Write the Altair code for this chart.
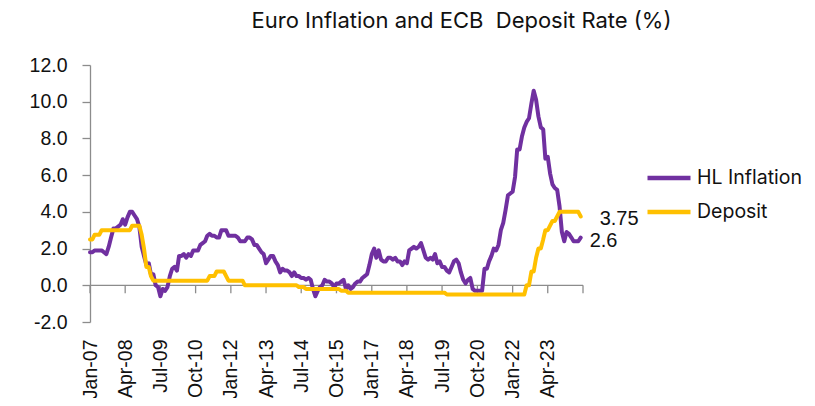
import altair as alt
import pandas as pd

# ---- data (monthly, Jan-2007 .. Jun-2024) ----
inflation = [
    # 2007
    1.8, 1.8, 1.9, 1.9, 1.9, 1.9, 1.8, 1.7, 2.1, 2.6, 3.1, 3.1,
    # 2008
    3.2, 3.3, 3.6, 3.3, 3.7, 4.0, 4.0, 3.8, 3.6, 3.2, 2.1, 1.6,
    # 2009
    1.1, 1.2, 0.6, 0.6, 0.0, -0.1, -0.6, -0.2, -0.3, -0.1, 0.5, 0.9,
    # 2010
    1.0, 0.8, 1.6, 1.6, 1.7, 1.5, 1.7, 1.6, 1.9, 1.9, 1.9, 2.2,
    # 2011
    2.3, 2.4, 2.7, 2.8, 2.7, 2.7, 2.6, 2.6, 3.0, 3.0, 3.0, 2.7,
    # 2012
    2.7, 2.7, 2.7, 2.6, 2.4, 2.4, 2.4, 2.6, 2.6, 2.5, 2.2, 2.2,
    # 2013
    2.0, 1.8, 1.7, 1.2, 1.4, 1.6, 1.6, 1.3, 1.1, 0.7, 0.9, 0.8,
    # 2014
    0.8, 0.7, 0.5, 0.7, 0.5, 0.5, 0.4, 0.4, 0.3, 0.4, 0.3, -0.2,
    # 2015
    -0.6, -0.3, -0.1, 0.0, 0.3, 0.2, 0.2, 0.1, -0.1, 0.1, 0.1, 0.2,
    # 2016
    0.3, -0.2, 0.0, -0.2, -0.1, 0.1, 0.2, 0.2, 0.4, 0.5, 0.6, 1.1,
    # 2017
    1.7, 2.0, 1.5, 1.9, 1.4, 1.3, 1.3, 1.5, 1.5, 1.4, 1.5, 1.3,
    # 2018
    1.3, 1.1, 1.3, 1.2, 1.9, 2.0, 2.1, 2.0, 2.1, 2.3, 1.9, 1.5,
    # 2019
    1.4, 1.5, 1.4, 1.7, 1.2, 1.3, 1.0, 1.0, 0.8, 0.7, 1.0, 1.3,
    # 2020
    1.4, 1.2, 0.7, 0.3, 0.1, 0.3, 0.4, -0.2, -0.3, -0.3, -0.3, -0.3,
    # 2021
    0.9, 0.9, 1.3, 1.6, 2.0, 1.9, 2.2, 3.0, 3.4, 4.1, 4.9, 5.0,
    # 2022
    5.1, 5.9, 7.4, 7.4, 8.1, 8.6, 8.9, 9.1, 9.9, 10.6, 10.1, 9.2,
    # 2023
    8.6, 8.5, 6.9, 7.0, 6.1, 5.5, 5.3, 5.2, 4.3, 2.9, 2.4, 2.9,
    # 2024
    2.8, 2.6, 2.4, 2.4, 2.4, 2.6,
]

deposit = (
    [2.5, 2.5, 2.75, 2.75, 2.75] + [3.0] * 7                      # 2007
    + [3.0] * 6 + [3.25] * 4 + [2.75, 2.0]                         # 2008
    + [1.0, 1.0, 0.5] + [0.25] * 9                                 # 2009
    + [0.25] * 12                                                  # 2010
    + [0.25] * 3 + [0.5] * 3 + [0.75] * 4 + [0.5, 0.25]            # 2011
    + [0.25] * 6 + [0.0] * 6                                       # 2012
    + [0.0] * 12                                                   # 2013
    + [0.0] * 5 + [-0.1] * 3 + [-0.2] * 4                          # 2014
    + [-0.2] * 11 + [-0.3]                                         # 2015
    + [-0.3] * 2 + [-0.4] * 10                                     # 2016
    + [-0.4] * 12                                                  # 2017
    + [-0.4] * 12                                                  # 2018
    + [-0.4] * 8 + [-0.5] * 4                                      # 2019
    + [-0.5] * 12                                                  # 2020
    + [-0.5] * 12                                                  # 2021
    + [-0.5] * 6 + [0.0, 0.0, 0.75, 0.75, 1.5, 2.0]                # 2022
    + [2.0, 2.5, 3.0, 3.0, 3.25, 3.5, 3.5, 3.75, 4.0, 4.0, 4.0, 4.0]  # 2023
    + [4.0] * 5 + [3.75]                                           # 2024
)

series_names = ["HL Inflation", "Deposit"]
series_colors = ["#7030A0", "#FFC000"]
y_ticks = [-2, 0, 2, 4, 6, 8, 10, 12]

months = pd.date_range("2007-01-01", periods=len(inflation), freq="MS")
tick_dates = pd.date_range("2007-01-01", periods=15, freq="15MS")  # Jan-07 ... Jul-24
label_dates = tick_dates[:-1]

df = pd.DataFrame({"date": months, "HL Inflation": inflation, "Deposit": deposit})
long = df.melt(id_vars="date", var_name="series", value_name="value")
last = long[long["date"] == months[-1]].copy()
last["label"] = ["2.6" if s == "HL Inflation" else "3.75" for s in last["series"]]

ticks_df = pd.DataFrame({"date": tick_dates})
axis_df = pd.DataFrame({"start": [tick_dates[0]], "end": [tick_dates[-1]]})

GREY = "#8C8C8C"
TXT = "#111111"

xscale = alt.Scale(domain=[alt.DateTime(year=2007, month=1, date=1),
                           alt.DateTime(year=2024, month=7, date=1)])
yscale = alt.Scale(domain=[-2, 12], nice=False)

xaxis = alt.Axis(
    values=[alt.DateTime(year=d.year, month=d.month, date=1) for d in label_dates],
    tickCount=40,
    format="%b-%y", labelAngle=270, labelFont="Liberation Sans", labelFontSize=19.5,
    labelColor=TXT, domain=False, ticks=False, grid=False, labelPadding=17,
    labelOverlap=False, labelBound=False, title=None,
)
yaxis = alt.Axis(
    values=y_ticks, tickCount=20,
    labelExpr="replace(format(datum.value, '.1f'), '\u2212', '-')",
    labelFont="Liberation Sans", labelFontSize=19.5, labelOverlap=False,
    labelColor=TXT, domainColor=GREY, domainWidth=1.3, tickColor=GREY, tickWidth=1.3,
    tickSize=8, grid=False, labelPadding=15, title=None,
)

color = alt.Color(
    "series:N",
    scale=alt.Scale(domain=series_names, range=series_colors),
    legend=alt.Legend(
        orient="none", legendX=555, legendY=103, title=None,
        symbolType="stroke", symbolStrokeWidth=4.5, symbolSize=1849, clipHeight=20,
        labelFont="Inter", labelFontSize=19.5, labelColor=TXT, labelOffset=4,
        rowPadding=14, padding=0,
    ),
)

base = alt.Chart(long)

zero_line = alt.Chart(axis_df).mark_rule(color=GREY, strokeWidth=1.3).encode(
    x=alt.X("start:T", scale=xscale, axis=xaxis), x2="end:T", y=alt.datum(0)
)
zero_ticks = alt.Chart(ticks_df).mark_rule(color=GREY, strokeWidth=1.3, y2Offset=8).encode(
    x="date:T", y=alt.datum(0), y2=alt.datum(0)
)

line_inf = base.transform_filter(alt.datum.series == "HL Inflation").mark_line(
    strokeWidth=4, strokeJoin="round", strokeCap="round"
).encode(
    x="date:T",
    y=alt.Y("value:Q", scale=yscale, axis=yaxis),
    color=color,
)
line_dep = base.transform_filter(alt.datum.series == "Deposit").mark_line(
    strokeWidth=4, strokeJoin="round", strokeCap="round"
).encode(
    x="date:T",
    y="value:Q",
    color=color,
)

lab_inf = alt.Chart(last).transform_filter(alt.datum.series == "HL Inflation").mark_text(
    align="left", baseline="middle", dx=9, dy=3, font="Liberation Sans", fontSize=20, color=TXT
).encode(x="date:T", y="value:Q", text="label:N")
lab_dep = alt.Chart(last).transform_filter(alt.datum.series == "Deposit").mark_text(
    align="left", baseline="middle", dx=19, dy=2.5, font="Liberation Sans", fontSize=20, color=TXT
).encode(x="date:T", y="value:Q", text="label:N")

chart = alt.layer(zero_line, zero_ticks, line_inf, line_dep, lab_inf, lab_dep).properties(
    width=493, height=257,
    title=alt.TitleParams(
        "Euro Inflation and ECB\u00a0 Deposit Rate (%)", font="Inter", fontSize=22,
        fontWeight="normal", color=TXT, anchor="middle", frame="group", dx=125, offset=22,
    ),
    autosize=alt.AutoSizeParams(type="none"),
    padding={"left": 82, "top": 57, "right": 224, "bottom": 76},
).configure_view(stroke=None).configure_axis(labelOverlap=False)

chart.save("out.html", embed_options={"renderer": "svg", "actions": False})
